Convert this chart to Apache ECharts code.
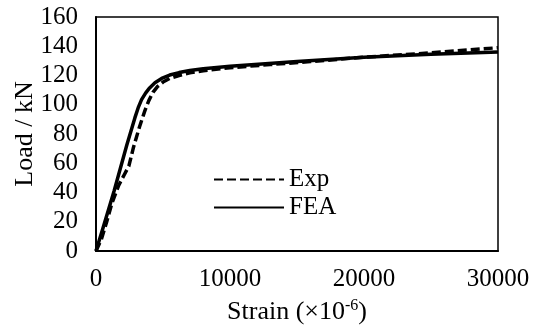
<!DOCTYPE html>
<html>
<head>
<meta charset="utf-8">
<script src="https://cdn.jsdelivr.net/npm/echarts@6/dist/echarts.min.js"></script>
<style>
  html, body { margin: 0; padding: 0; background: #fff; }
  #chart { width: 535px; height: 326px; }
</style>
</head>
<body>
<div id="chart"></div>
<script>
// strain (x10^-6) vs load (kN)
var expStrain = [0, 400, 800, 1200, 1700, 2100, 2450, 2800, 3250, 3650, 3950, 4250, 4600, 5000, 5500, 6200, 7000, 8000, 10000, 13000, 16000, 20000, 25000, 30000];
var expLoad   = [0, 8, 20, 33, 45, 52, 58, 71, 85, 96, 103, 108.5, 112.5, 115.5, 118, 120, 121.8, 123.3, 125.3, 127.5, 129.5, 132.5, 135.5, 139];

var feaStrain = [0, 500, 1350, 2300, 2900, 3150, 3400, 3700, 4000, 4400, 4900, 5500, 6200, 7000, 8000, 10000, 15000, 20000, 25000, 30000];
var feaLoad   = [0, 15, 41, 72.5, 91, 98, 103.5, 108, 111.5, 115, 118, 120.3, 122, 123.4, 124.6, 126.3, 129.5, 132.5, 134.5, 136];

var seriesNames = ['Exp', 'FEA'];

function pairs(xs, ys) {
    return xs.map(function (x, i) { return [x, ys[i]]; });
}

var FONT = '"Times New Roman", "Liberation Serif", Tinos, serif';

var myChart = echarts.init(document.getElementById('chart'), null, { renderer: 'canvas' });

var option = {
    animation: false,
    textStyle: { fontFamily: FONT },
    grid: {
        left: 96,
        right: 37,
        top: 17,
        bottom: 75,
        outerBoundsMode: 'none',
        containLabel: false,
        show: true,
        borderColor: '#000',
        borderWidth: 1.5
    },
    legend: {
        data: seriesNames,
        orient: 'vertical',
        left: 213,
        top: 167,
        padding: 0,
        itemWidth: 70,
        itemHeight: 14,
        itemGap: 3,
        itemStyle: { opacity: 0 },
        textStyle: { fontFamily: FONT, fontSize: 25, color: '#000' }
    },
    xAxis: {
        type: 'value',
        min: 0,
        max: 30000,
        interval: 10000,
        name: '{a|Strain (×10}{s|-6}{a|)}',
        nameLocation: 'middle',
        nameGap: 47,
        nameMoveOverlap: false,
        nameTextStyle: {
            rich: {
                a: { fontFamily: FONT, fontSize: 26, color: '#000' },
                s: { fontFamily: FONT, fontSize: 16, color: '#000', verticalAlign: 'top', padding: [0, 0, 12, 0] }
            }
        },
        axisLine: { lineStyle: { color: '#000', width: 2 } },
        axisTick: { show: false },
        splitLine: { show: false },
        axisLabel: {
            fontFamily: FONT, fontSize: 25, color: '#000', margin: 16,
            formatter: function (v) { return String(v); }
        }
    },
    yAxis: {
        type: 'value',
        min: 0,
        max: 160,
        interval: 20,
        name: 'Load / kN',
        nameLocation: 'middle',
        nameGap: 58,
        nameMoveOverlap: false,
        nameTextStyle: { fontFamily: FONT, fontSize: 26, color: '#000' },
        axisLine: { show: true, lineStyle: { color: '#000', width: 2 } },
        axisTick: { show: false },
        splitLine: { show: false },
        axisLabel: { fontFamily: FONT, fontSize: 25, color: '#000', margin: 18 }
    },
    series: [
        {
            name: seriesNames[0],
            type: 'line',
            data: pairs(expStrain, expLoad),
            showSymbol: false,
            symbol: 'none',
            lineStyle: { color: '#000', width: 3.5, type: [9, 4] },
            itemStyle: { color: '#000' }
        },
        {
            name: seriesNames[1],
            type: 'line',
            data: pairs(feaStrain, feaLoad),
            showSymbol: false,
            symbol: 'none',
            lineStyle: { color: '#000', width: 3.5 },
            itemStyle: { color: '#000' }
        }
    ]
};

option && myChart.setOption(option);
</script>
</body>
</html>
